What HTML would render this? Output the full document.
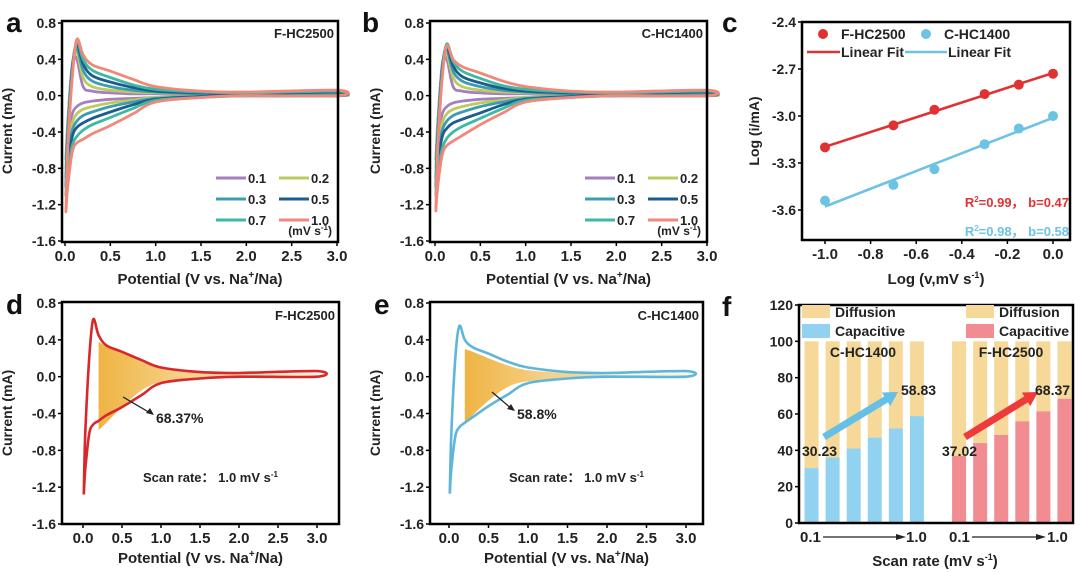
<!DOCTYPE html>
<html><head><meta charset="utf-8"><style>
html,body{margin:0;padding:0;background:#fff;}
svg{display:block;font-family:"Liberation Sans",Arial,sans-serif;font-weight:bold;}
</style></head><body>
<svg id="fig" width="1080" height="572" viewBox="0 0 1080 572">
<defs>
<linearGradient id="gold" x1="0" x2="1" y1="0" y2="0"><stop offset="0" stop-color="#efb443"/><stop offset="0.35" stop-color="#f5cf84"/><stop offset="1" stop-color="#fdf1d6"/></linearGradient>
</defs>
</svg>
<script>
// ---------- data ----------
const cvPotential = [0.01,0.03,0.08,0.13,0.2,0.3,0.5,0.75,1.0,1.5,2.0,3.0];
const scanRates = ["0.1","0.2","0.3","0.5","0.7","1.0"];
const fhcAnodic = [
 [-0.7,-0.3,0.35,0.40,0.10,0.05,0.03,0.02,0.02,0.01,0.01,0.01],
 [-0.8,-0.35,0.32,0.48,0.20,0.10,0.06,0.04,0.03,0.02,0.01,0.02],
 [-0.9,-0.4,0.30,0.52,0.28,0.16,0.10,0.06,0.04,0.02,0.02,0.03],
 [-1.0,-0.45,0.30,0.57,0.35,0.22,0.15,0.09,0.05,0.03,0.02,0.04],
 [-1.1,-0.5,0.25,0.60,0.40,0.28,0.20,0.12,0.07,0.04,0.03,0.05],
 [-1.28,-0.6,0.20,0.62,0.45,0.34,0.27,0.18,0.10,0.05,0.04,0.06]];
const fhcCathodic = [
 [-0.7,-0.45,-0.2,-0.12,-0.08,-0.06,-0.04,-0.03,-0.02,-0.01,0,0],
 [-0.8,-0.55,-0.3,-0.2,-0.15,-0.12,-0.08,-0.05,-0.02,-0.01,0,0],
 [-0.9,-0.65,-0.38,-0.28,-0.22,-0.18,-0.12,-0.07,-0.03,-0.01,0,0],
 [-1.0,-0.75,-0.45,-0.35,-0.3,-0.25,-0.18,-0.1,-0.04,-0.01,0,0],
 [-1.1,-0.85,-0.55,-0.45,-0.38,-0.32,-0.24,-0.14,-0.05,-0.02,0,0],
 [-1.28,-1.0,-0.62,-0.52,-0.48,-0.42,-0.33,-0.2,-0.07,-0.02,0,0]];
const chcAnodic = [
 [-0.7,-0.3,0.35,0.40,0.10,0.05,0.03,0.02,0.02,0.01,0.01,0.01],
 [-0.8,-0.35,0.32,0.46,0.20,0.10,0.06,0.04,0.03,0.02,0.01,0.02],
 [-0.9,-0.4,0.30,0.50,0.27,0.16,0.10,0.06,0.04,0.02,0.02,0.03],
 [-1.0,-0.45,0.30,0.54,0.33,0.21,0.14,0.08,0.05,0.03,0.02,0.04],
 [-1.1,-0.5,0.25,0.57,0.38,0.27,0.19,0.11,0.07,0.04,0.03,0.05],
 [-1.25,-0.6,0.20,0.55,0.40,0.32,0.25,0.16,0.10,0.05,0.04,0.06]];
const chcCathodic = [
 [-0.7,-0.45,-0.2,-0.12,-0.08,-0.06,-0.04,-0.03,-0.02,-0.01,0,0],
 [-0.8,-0.55,-0.3,-0.2,-0.15,-0.12,-0.08,-0.05,-0.02,-0.01,0,0],
 [-0.9,-0.65,-0.38,-0.28,-0.22,-0.18,-0.12,-0.07,-0.03,-0.01,0,0],
 [-1.0,-0.75,-0.45,-0.36,-0.3,-0.26,-0.19,-0.1,-0.04,-0.01,0,0],
 [-1.1,-0.85,-0.58,-0.47,-0.4,-0.34,-0.25,-0.14,-0.05,-0.02,0,0],
 [-1.27,-1.0,-0.65,-0.55,-0.5,-0.44,-0.32,-0.19,-0.07,-0.02,0,0]];
const capPotential = [0.2,0.3,0.5,0.75,1.0,1.5,2.0,3.0];
const fhcCapUpper = [0.38,0.33,0.26,0.17,0.10,0.05,0.03,0.04];
const fhcCapLower = [-0.58,-0.5,-0.33,-0.15,-0.06,-0.02,-0.01,0.0];
const chcCapUpper = [0.30,0.27,0.20,0.12,0.07,0.04,0.02,0.03];
const chcCapLower = [-0.52,-0.42,-0.26,-0.11,-0.05,-0.02,-0.01,0.0];
const yTicksCV = [0.8,0.4,0.0,-0.4,-0.8,-1.2,-1.6];
const xTicksCV = [0.0,0.5,1.0,1.5,2.0,2.5,3.0];
const logV = [-1.0,-0.7,-0.52,-0.3,-0.15,0.0];
const logIF = [-3.2,-3.06,-2.96,-2.86,-2.8,-2.73];
const logIC = [-3.54,-3.44,-3.34,-3.18,-3.08,-3.0];
const xTicksC = [-1.0,-0.8,-0.6,-0.4,-0.2,0.0];
const yTicksC = [-2.4,-2.7,-3.0,-3.3,-3.6];
const capC = [30.23,36,41,47,52,58.83];
const capF = [37.02,44,48.5,56,61.5,68.37];
const yTicksF = [0,20,40,60,80,100,120];

// ---------- helpers ----------
const NS="http://www.w3.org/2000/svg";
const svg=document.getElementById('fig');
function mk(tag,attrs,parent,txt){const e=document.createElementNS(NS,tag);for(const k in attrs)e.setAttribute(k,attrs[k]);if(txt!==undefined)e.textContent=txt;(parent||svg).appendChild(e);return e;}
function lin(d0,d1,r0,r1){return v=>r0+(v-d0)*(r1-r0)/(d1-d0);}
function smooth(pts,closed){
 let d="M"+pts[0][0].toFixed(1)+","+pts[0][1].toFixed(1);
 const n=pts.length;
 for(let i=0;i<n-1;i++){
  const p0=pts[Math.max(0,i-1)],p1=pts[i],p2=pts[i+1],p3=pts[Math.min(n-1,i+2)];
  const c1=[p1[0]+(p2[0]-p0[0])/6,p1[1]+(p2[1]-p0[1])/6];
  const c2=[p2[0]-(p3[0]-p1[0])/6,p2[1]-(p3[1]-p1[1])/6];
  d+="C"+c1[0].toFixed(1)+","+c1[1].toFixed(1)+" "+c2[0].toFixed(1)+","+c2[1].toFixed(1)+" "+p2[0].toFixed(1)+","+p2[1].toFixed(1);
 }
 return d+(closed?"Z":"");
}
function frame(g,x0,y0,x1,y1){
 const r=mk('rect',{x:x0,y:y0,width:x1-x0,height:y1-y0,fill:'none',stroke:'#000','stroke-width':2.5},g);
 
 
}
function text(g,x,y,s,size,anchor,fill,name){
 const t=mk('text',{x:x,y:y,'font-size':size,'text-anchor':anchor||'start',fill:fill||'#222'},g,s);
 
 
 return t;
}
function yAxis(g,ticks,sy,x0,fmt,name){
 ticks.forEach(v=>{const y=sy(v);mk('line',{x1:x0-4,x2:x0,y1:y,y2:y,stroke:'#000','stroke-width':1.5},g);
  text(g,x0-6,y+5,fmt(v),14,'end','#222',name);});
}
function xAxis(g,ticks,sx,y0,fmt,name){
 ticks.forEach(v=>{const x=sx(v);mk('line',{x1:x,x2:x,y1:y0,y2:y0+4,stroke:'#000','stroke-width':1.5},g);
  text(g,x,y0+19,fmt(v),15,'middle','#222',name);});
}
function vTitle(g,x,y,s){const t=text(g,x,y,s,14,'middle','#222','y-axis-title');t.setAttribute('transform','rotate(-90 '+x+' '+y+')');}
function potTitle(g,x,y){
 const t=text(g,x,y,'',15,'middle','#222','x-axis-title');
 t.appendChild(document.createTextNode('Potential (V vs. Na'));
 mk('tspan',{'font-size':10,dy:-6},t,'+');
 mk('tspan',{dy:6},t,'/Na)');
}
const rateColors=['#a57fc2','#bccb5c','#3c9db0','#1e5c8e','#3cb9a3','#f1887a'];

// ---------- CV multi-rate panels ----------
function cvPanel(id,letterX,fx0,fx1,zeroX,threeX,an,ca,label,lx){
 const g=mk('g',{});
 const fy0=21,fy1=242;
 const sx=lin(0,3,zeroX,threeX), sy=lin(0.8,-1.6,23,241);
 for(let r=0;r<6;r++){
  const pts=cvPotential.map((p,i)=>[sx(p),sy(an[r][i])]);
  const back=cvPotential.map((p,i)=>[sx(p),sy(ca[r][i])]).reverse();
  const p=mk('path',{d:smooth(pts.concat(back),true),fill:'none',stroke:rateColors[r],'stroke-width':2.8,'stroke-linejoin':'round'},g);
  
  
 }
 frame(g,fx0,fy0,fx1,fy1);
 yAxis(g,yTicksCV,sy,fx0,v=>v.toFixed(1),'y-tick-label');
 xAxis(g,xTicksCV,sx,fy1,v=>v.toFixed(1),'x-tick-label');
 text(g,letterX,32,id,28,'start','#111','panel-letter');
 text(g,fx1-4,38,label,13,'end','#222','sample-label');
 vTitle(g,fx0-50,131,'Current (mA)');
 potTitle(g,(fx0+fx1)/2,284);
 const lg=mk('g',{},g);
 for(let r=0;r<6;r++){
  const col=r%2,row=Math.floor(r/2);
  const x=lx+col*63,y=178+row*21;
  mk('line',{x1:x,x2:x+30,y1:y,y2:y,stroke:rateColors[r],'stroke-width':3},lg);
  text(lg,x+32,y+5,scanRates[r],13,'start','#222','legend-entry');
 }
 const u=text(lg,fx1-6,235,'',12,'end','#222','legend-unit');
 u.appendChild(document.createTextNode('(mV s'));mk('tspan',{'font-size':8,dy:-5},u,'-1');mk('tspan',{dy:5},u,')');
}
cvPanel('a',6,62,338,65,337,fhcAnodic,fhcCathodic,'F-HC2500',216);
cvPanel('b',362,430,707,435,707,chcAnodic,chcCathodic,'C-HC1400',585);

// ---------- CV single panels with capacitive fill ----------
function capPanel(id,fx0,fx1,zeroX,threeX,an,ca,cu,cl,color,label,pct,arrow){
 const g=mk('g',{});
 const fy0=302,fy1=524;
 const sx=lin(0,3,zeroX,threeX), sy=lin(0.8,-1.6,303,524);
 const up=capPotential.map((p,i)=>[sx(p),sy(cu[i])]);
 const lo=capPotential.map((p,i)=>[sx(p),sy(cl[i])]).reverse();
 const f=mk('path',{d:smooth(up,false)+' L'+smooth(lo,false).slice(1)+'Z',fill:'url(#gold)',stroke:'none'},g);
 
 const pts=cvPotential.map((p,i)=>[sx(p),sy(an[5][i])]);
 const back=cvPotential.map((p,i)=>[sx(p),sy(ca[5][i])]).reverse();
 const c=mk('path',{d:smooth(pts.concat(back),true),fill:'none',stroke:color,'stroke-width':2.6},g);
 
 frame(g,fx0,fy0,fx1,fy1);
 yAxis(g,yTicksCV,sy,fx0,v=>v.toFixed(1),'y-tick-label');
 xAxis(g,xTicksCV,sx,fy1,v=>v.toFixed(1),'x-tick-label');
 text(g,fx0-56,314,id,28,'start','#111','panel-letter');
 text(g,fx1-4,320,label,13,'end','#222','sample-label');
 vTitle(g,fx0-50,413,'Current (mA)');
 potTitle(g,(fx0+fx1)/2,563);
 mk('line',{x1:arrow[0],y1:arrow[1],x2:arrow[2],y2:arrow[3],stroke:'#222','stroke-width':1.3},g);
 mk('polygon',{points:(arrow[2]+2)+','+(arrow[3]+1)+' '+(arrow[2]-6)+','+(arrow[3]-1)+' '+(arrow[2]-2)+','+(arrow[3]-6),fill:'#222'},g);
 text(g,arrow[2]+4,arrow[3]+9,pct,14,'start','#222','capacitive-percent');
 const s=text(g,(fx0+fx1)/2+10,482,'',13,'middle','#222','scan-rate-note');
 s.appendChild(document.createTextNode('Scan rate\uFF1A 1.0 mV s'));mk('tspan',{'font-size':8,dy:-5},s,'-1');
}
capPanel('d',62,339,83,317,fhcAnodic,fhcCathodic,fhcCapUpper,fhcCapLower,'#d8282c','F-HC2500','68.37%',[123,397,152,414]);
capPanel('e',430,703,449,686,chcAnodic,chcCathodic,chcCapUpper,chcCapLower,'#5fb6db','C-HC1400','58.8%',[492,392,513,410]);

// ---------- panel c ----------
(function(){
 const g=mk('g',{});
 const fx0=802,fx1=1070,fy0=22,fy1=240;
 const sx=lin(-1,0,825,1053), sy=lin(-2.4,-3.6,22,210);
 function fit(xs,ys){const n=xs.length,mx=xs.reduce((a,b)=>a+b)/n,my=ys.reduce((a,b)=>a+b)/n;let sxy=0,sxx=0;xs.forEach((x,i)=>{sxy+=(x-mx)*(ys[i]-my);sxx+=(x-mx)*(x-mx);});const b=sxy/sxx;return [b,my-b*mx];}
 [[logIF,'#e03232','F'],[logIC,'#6cc3e3','C']].forEach(([ys,col,nm])=>{
  const [b,a]=fit(logV,ys);
  const l=mk('line',{x1:sx(-1),y1:sy(a-b),x2:sx(0),y2:sy(a),stroke:col,'stroke-width':2.6},g);
  
  logV.forEach((x,i)=>{const c=mk('circle',{cx:sx(x),cy:sy(ys[i]),r:5,fill:col},g);
   });
 });
 frame(g,fx0,fy0,fx1,fy1);
 yAxis(g,yTicksC,sy,fx0,v=>v.toFixed(1),'y-tick-label');
 xAxis(g,xTicksC,sx,fy1,v=>v.toFixed(1),'x-tick-label');
 text(g,722,32,'c',28,'start','#111','panel-letter');
 vTitle(g,759,131,'Log (i/mA)');
 const xt=text(g,936,284,'',15,'middle','#222','x-axis-title');
 xt.appendChild(document.createTextNode('Log (v,mV s'));mk('tspan',{'font-size':9,dy:-6},xt,'-1');mk('tspan',{dy:6},xt,')');
 mk('circle',{cx:823,cy:34,r:5,fill:'#e03232'},g);text(g,841,39,'F-HC2500',14,'start','#222','legend-entry');
 mk('circle',{cx:926,cy:34,r:5,fill:'#6cc3e3'},g);text(g,944,39,'C-HC1400',14,'start','#222','legend-entry');
 mk('line',{x1:807,x2:840,y1:52,y2:52,stroke:'#e03232','stroke-width':2.6},g);text(g,841,57,'Linear Fit',14,'start','#222','legend-entry');
 mk('line',{x1:905,x2:947,y1:52,y2:52,stroke:'#6cc3e3','stroke-width':2.6},g);text(g,948,57,'Linear Fit',14,'start','#222','legend-entry');
 const r1=text(g,1069,207,'',13,'end','#e03232','r2-label-F');r1.appendChild(document.createTextNode('R'));mk('tspan',{'font-size':8,dy:-5},r1,'2');mk('tspan',{dy:5},r1,'=0.99\uFF0C b=0.47');
 const r2=text(g,1069,236,'',13,'end','#6cc3e3','r2-label-C');r2.appendChild(document.createTextNode('R'));mk('tspan',{'font-size':8,dy:-5},r2,'2');mk('tspan',{dy:5},r2,'=0.98\uFF0C b=0.58');
})();

// ---------- panel f ----------
(function(){
 const g=mk('g',{});
 const fx0=799,fx1=1073,fy0=305,fy1=523;
 const sy=lin(0,120,523,305);
 const slot=(fx1-fx0)/13, bw=14;
 function bars(vals,off,col,nm){
  vals.forEach((v,i)=>{
   const x=fx0+(off+i)*slot+(slot-bw)/2+2;
   const d=mk('rect',{x:x,y:sy(100),width:bw,height:sy(v)-sy(100),fill:'#f6d898'},g);
   
   const c=mk('rect',{x:x,y:sy(v),width:bw,height:sy(0)-sy(v),fill:col},g);
   
  });
 }
 bars(capC,0,'#90d2ef','C');
 bars(capF,7,'#f28c93','F');
 frame(g,fx0,fy0,fx1,fy1);
 yAxis(g,yTicksF,sy,fx0,v=>String(v),'y-tick-label');
 text(g,722,316,'f',28,'start','#111','panel-letter');
 [[802,'#90d2ef'],[966,'#f28c93']].forEach(([x,col])=>{
  mk('rect',{x:x,y:305,width:28,height:13,fill:'#f6d898'},g);
  text(g,x+33,317,'Diffusion',14,'start','#222','legend-entry');
  mk('rect',{x:x,y:324,width:28,height:14,fill:col},g);
  text(g,x+33,336,'Capacitive',14,'start','#222','legend-entry');
 });
 text(g,863,357,'C-HC1400',14,'middle','#222','group-label');
 text(g,1011,357,'F-HC2500',14,'middle','#222','group-label');
 function arr(x1,y1,x2,y2,col){
  mk('line',{x1:x1,y1:y1,x2:x2-8,y2:y2+5,stroke:col,'stroke-width':7},g);
  const a=Math.atan2(y2-y1,x2-x1),c=Math.cos(a),s=Math.sin(a);
  mk('polygon',{points:x2+','+y2+' '+(x2-14*c+8*s)+','+(y2-14*s-8*c)+' '+(x2-14*c-8*s)+','+(y2-14*s+8*c),fill:col},g);
 }
 arr(824,437,898,392,'#66bfe6');
 arr(965,437,1038,392,'#ee3a3a');
 text(g,802,456,capC[0].toFixed(2),14,'start','#222','value-label');
 text(g,901,395,capC[5].toFixed(2),14,'start','#222','value-label');
 text(g,942,456,capF[0].toFixed(2),14,'start','#222','value-label');
 text(g,1035,395,capF[5].toFixed(2),14,'start','#222','value-label');
 text(g,800,542,'0.1',15,'start','#222','x-tick-label');
 mk('line',{x1:823,x2:900,y1:537,y2:537,stroke:'#222','stroke-width':1.2},g);
 mk('polygon',{points:'906,537 896,534 896,540',fill:'#222'},g);
 text(g,906,542,'1.0',15,'start','#222','x-tick-label');
 text(g,949,542,'0.1',15,'start','#222','x-tick-label');
 mk('line',{x1:972,x2:1040,y1:537,y2:537,stroke:'#222','stroke-width':1.2},g);
 mk('polygon',{points:'1046,537 1036,534 1036,540',fill:'#222'},g);
 text(g,1047,542,'1.0',15,'start','#222','x-tick-label');
 const xt=text(g,935,566,'',15,'middle','#222','x-axis-title');
 xt.appendChild(document.createTextNode('Scan rate (mV s'));mk('tspan',{'font-size':9,dy:-6},xt,'-1');mk('tspan',{dy:6},xt,')');
})();
</script>
</body></html>
